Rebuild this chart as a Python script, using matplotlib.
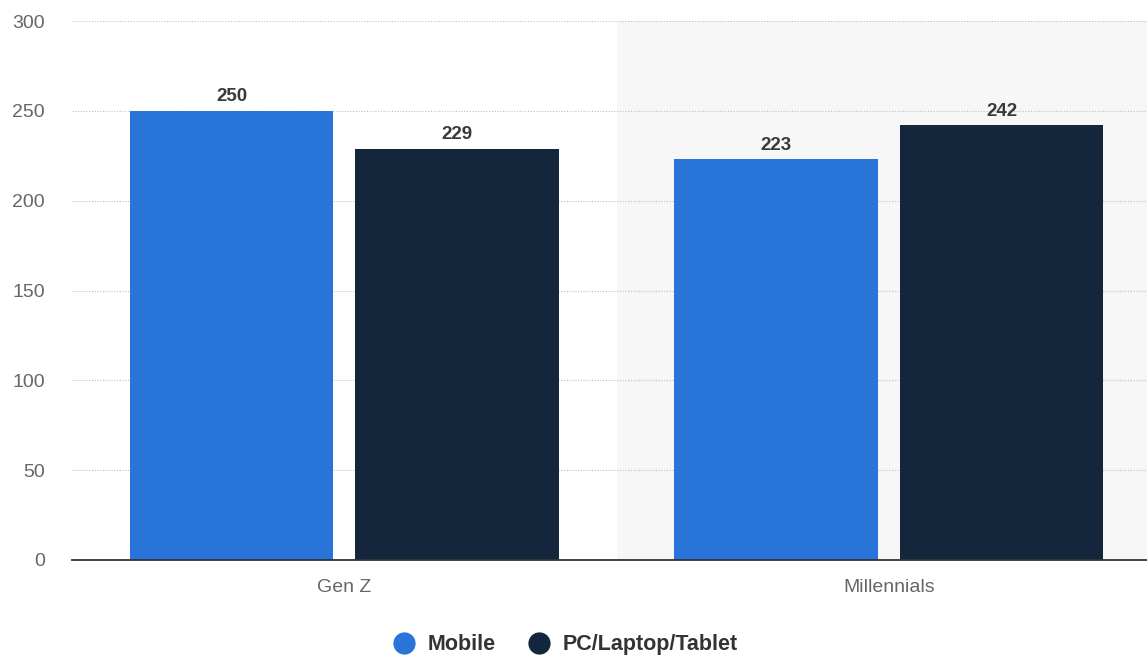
import matplotlib
matplotlib.use("Agg")
import matplotlib.pyplot as plt
from matplotlib.lines import Line2D
import numpy as np

plt.rcParams["font.family"] = ["Liberation Sans", "DejaVu Sans"]

categories = ["Gen Z", "Millennials"]
series_names = ["Mobile", "PC/Laptop/Tablet"]
mobile = [250, 223]
pc = [229, 242]
yticks = [0, 50, 100, 150, 200, 250, 300]

colors = ["#2874d9", "#13263c"]

fig = plt.figure(figsize=(11.47, 6.57), dpi=100)
ax = fig.add_axes([72/1147, 97/657, (1161-72)/1147, 539/657])
x = np.arange(len(categories))
bw = 0.373
off = 0.207

ax.axvspan(0.5, 1.5, color="#f7f7f7", zorder=0, lw=0)
for vals, o, c in [(mobile, -off, colors[0]), (pc, off, colors[1])]:
    bars = ax.bar(x + o, vals, width=bw, color=c, zorder=3)
    for b, v in zip(bars, vals):
        ax.text(b.get_x() + b.get_width()/2, v + 3, str(v), ha="center", va="bottom",
                fontsize=13.5, fontweight="bold", color="#3a3a3a", zorder=4)

ax.set_xlim(-0.5, 1.5)
ax.set_ylim(0, 300)
ax.set_yticks(yticks)
ax.set_xticks(x)
ax.set_xticklabels(categories)
ax.yaxis.grid(True, linestyle=(0, (1, 1.5)), color="#bfbfbf", lw=0.8, zorder=1)
for s in ["top", "right", "left"]:
    ax.spines[s].set_visible(False)
ax.spines["bottom"].set_color("#333333")
ax.spines["bottom"].set_linewidth(1.3)
ax.spines["bottom"].set_zorder(5)
ax.tick_params(axis="both", length=0, labelsize=14, labelcolor="#666666")
ax.tick_params(axis="y", pad=19.5)
ax.tick_params(axis="x", pad=13.5)

handles = [Line2D([], [], marker="o", ls="", markersize=15, color=c) for c in colors]
leg = fig.legend(handles, series_names, loc="lower center", bbox_to_anchor=(0.488, -0.027),
                 ncol=2, frameon=False, handletextpad=0.1, columnspacing=1.0,
                 prop={"weight": "bold", "size": 15.5})
for t in leg.get_texts():
    t.set_color("#333333")

fig.savefig("out.png", dpi=100)
